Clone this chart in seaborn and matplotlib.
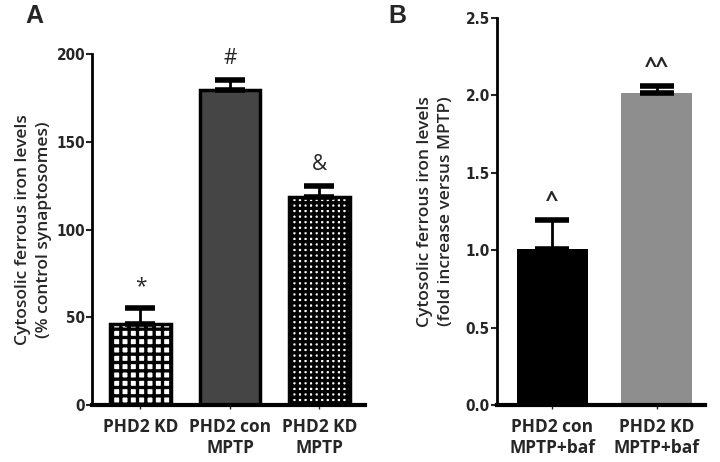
import numpy as np
import pandas as pd
import seaborn as sns
import matplotlib.pyplot as plt

# panel A data
groups_a = ["PHD2 KD", "PHD2 con\nMPTP", "PHD2 KD\nMPTP"]
means_a = [46, 179.5, 118.5]
sem_a = [9.5, 6, 6.5]
marks_a = ["*", "#", "&"]

# panel B data
groups_b = ["PHD2 con\nMPTP+baf", "PHD2 KD\nMPTP+baf"]
means_b = [1.01, 2.015]
sem_b = [0.185, 0.045]
marks_b = ["^", "^^"]

sns.set_style("white")
plt.rcParams["font.family"] = ["Open Sans", "DejaVu Sans"]
plt.rcParams["hatch.linewidth"] = 2.4

fig = plt.figure(figsize=(7.2, 4.62), dpi=100)
ax_a = fig.add_axes([0.128, 0.123, 0.379, 0.760])
ax_b = fig.add_axes([0.690, 0.123, 0.289, 0.838])

tick_font = dict(family=["DejaVu Sans"], fontstretch="condensed", fontsize=11,
                 fontweight="bold")


def style_axes(ax, ylim, yticks, yfmt, labels):
    ax.set_ylim(*ylim)
    ax.set_yticks(yticks)
    ax.set_yticklabels([yfmt.format(t) for t in yticks], **tick_font)
    ax.set_xticks(range(len(labels)))
    ax.set_xticklabels(labels, fontsize=12.5, fontweight="bold", linespacing=1.25)
    for s in ["top", "right"]:
        ax.spines[s].set_visible(False)
    ax.spines["left"].set_linewidth(2)
    ax.spines["bottom"].set_linewidth(3)
    ax.spines["left"].set_color("black")
    ax.spines["bottom"].set_color("black")
    ax.tick_params(axis="y", direction="out", length=4, width=1.5, pad=1, left=True)
    ax.tick_params(axis="x", direction="out", length=3, width=1, pad=6, bottom=True)
    ax.set_xlabel("")


# ---- panel A ----
df_a = pd.DataFrame({"group": groups_a, "value": means_a})
sns.barplot(data=df_a, x="group", y="value", ax=ax_a, errorbar=None, width=0.68,
            color="white", edgecolor="black", linewidth=2.5)
fills = ["white", "#454545", "white"]
hatches = ["++", "", "+++"]
for bar, fc, h in zip(ax_a.patches, fills, hatches):
    bar.set_facecolor(fc)
    bar.set_hatch(h)
x_a = np.arange(len(means_a))
ax_a.errorbar(x_a, means_a, yerr=[np.zeros(len(sem_a)), sem_a], fmt="none",
              ecolor="black", elinewidth=2, capsize=11, capthick=4)
for x, m, e, t in zip(x_a, means_a, sem_a, marks_a):
    ax_a.text(x, m + e + 6, t, ha="center", va="bottom", fontsize=15)
ax_a.set_xlim(-0.54, 2.51)
style_axes(ax_a, (0, 200), [0, 50, 100, 150, 200], "{:.0f}", groups_a)
ax_a.set_ylabel("Cytosolic ferrous iron levels\n(% control synaptosomes)",
                fontsize=12.5, fontweight="semibold", labelpad=3, linespacing=1.45)

# ---- panel B ----
df_b = pd.DataFrame({"group": groups_b, "value": means_b})
sns.barplot(data=df_b, x="group", y="value", ax=ax_b, errorbar=None, width=0.68,
            palette=["black", "#8e8e8e"], hue="group", legend=False,
            edgecolor="none")
x_b = np.arange(len(means_b))
ax_b.errorbar(x_b, means_b, yerr=[np.zeros(len(sem_b)), sem_b], fmt="none",
              ecolor="black", elinewidth=2, capsize=12, capthick=4)
for x, m, e, t in zip(x_b, means_b, sem_b, marks_b):
    ax_b.text(x, m + e + 0.06, t, ha="center", va="bottom", fontsize=16,
              fontweight="bold")
ax_b.set_xlim(-0.53, 1.46)
style_axes(ax_b, (0, 2.5), [0, 0.5, 1.0, 1.5, 2.0, 2.5], "{:.1f}", groups_b)
ax_b.set_ylabel("Cytosolic ferrous iron levels\n(fold increase versus MPTP)",
                fontsize=12.5, fontweight="semibold", labelpad=8, linespacing=1.45)

fig.text(0.035, 0.965, "A", fontsize=18, fontweight="bold", va="center",
         family=["Liberation Sans", "DejaVu Sans"])
fig.text(0.540, 0.965, "B", fontsize=18, fontweight="bold", va="center",
         family=["Liberation Sans", "DejaVu Sans"])

fig.savefig("out.png", dpi=100)
